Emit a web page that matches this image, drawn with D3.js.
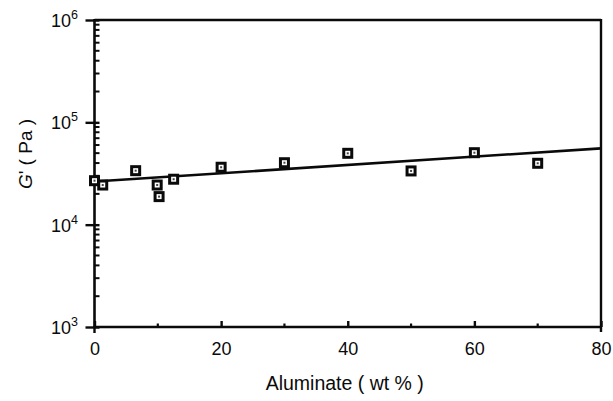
<!DOCTYPE html>
<html>
<head>
<meta charset="utf-8">
<script src="https://cdn.jsdelivr.net/npm/d3@7"></script>
<style>
  html, body { margin: 0; padding: 0; background: #fff; }
  svg { display: block; font-family: "Liberation Sans", Arial, Helvetica, sans-serif; }
</style>
</head>
<body>
<svg id="chart" width="613" height="401"></svg>
<script>
// ---- data ----
const aluminate = [0, 1.3, 6.5, 9.9, 10.2, 12.5, 20, 30, 40, 50, 60, 70];
const modulus   = [26900, 24400, 33700, 24400, 18800, 27800, 36400, 40300, 49800, 33500, 50500, 39800];
const fitX = [0, 80];
const fitY = [26400, 55700];
const xTicks = [0, 20, 40, 60, 80];
const xMinorTicks = [10, 30, 50, 70];
const yTickExponents = [3, 4, 5, 6];

// ---- layout ----
const svg = d3.select("#chart");
const mLeft = 94.5, mRight = 601, mTop = 20, mBottom = 327;

const x = d3.scaleLinear().domain([0, 80]).range([mLeft, mRight]);
const y = d3.scaleLog().domain([1e3, 1e6]).range([mBottom, mTop]);

const ink = "#0a0a0a";

// frame: top and right borders
svg.append("line").attr("x1", mLeft).attr("x2", mRight).attr("y1", mTop).attr("y2", mTop)
  .attr("stroke", ink).attr("stroke-width", 2.4);
svg.append("line").attr("x1", mRight).attr("x2", mRight).attr("y1", mTop - 1).attr("y2", mBottom + 5)
  .attr("stroke", ink).attr("stroke-width", 2.4);

// x axis
const xAxis = svg.append("g").attr("transform", `translate(0,${mBottom})`);
xAxis.call(d3.axisBottom(x).tickValues(xTicks).tickSize(-6).tickPadding(10).tickFormat(d3.format("d")));
xAxis.select(".domain").attr("stroke", ink).attr("stroke-width", 2.6).attr("d", `M${mLeft - 1},0H${mRight + 1}`);
xAxis.selectAll(".tick line").attr("stroke", ink).attr("stroke-width", 2.4);
xAxis.selectAll(".tick text").attr("font-size", 18).attr("fill", ink).attr("dy", "1.0em");
xAxis.selectAll(".minor").data(xMinorTicks).enter().append("line")
  .attr("x1", d => x(d)).attr("x2", d => x(d)).attr("y1", 0).attr("y2", -3.5)
  .attr("stroke", ink).attr("stroke-width", 2.2);
xAxis.selectAll(".endtick").data([0]).enter().append("line")
  .attr("x1", d => x(d)).attr("x2", d => x(d)).attr("y1", 0).attr("y2", 6)
  .attr("stroke", ink).attr("stroke-width", 2.4);

// y axis
const yAxis = svg.append("g").attr("transform", `translate(${mLeft},0)`);
const allYTicks = [];
for (let e = 3; e < 6; e++) for (let m = 2; m <= 9; m++) allYTicks.push(m * Math.pow(10, e));
yAxis.call(d3.axisLeft(y).tickValues(yTickExponents.map(e => Math.pow(10, e))).tickSize(8).tickFormat(""));
yAxis.select(".domain").attr("stroke", ink).attr("stroke-width", 2.6).attr("d", `M0,${mBottom + 1}V${mTop - 1}`);
yAxis.selectAll(".tick line").attr("stroke", ink).attr("stroke-width", 2.4).attr("x2", 5).attr("x1", -9);
yAxis.selectAll(".minor").data(allYTicks).enter().append("line")
  .attr("x1", 0).attr("x2", 5).attr("y1", d => y(d)).attr("y2", d => y(d))
  .attr("stroke", ink).attr("stroke-width", 2);

// y tick labels: 10^n
const yl = svg.append("g");
yTickExponents.forEach(e => {
  const t = yl.append("text").attr("x", 78).attr("y", y(Math.pow(10, e)) + 7)
    .attr("text-anchor", "end").attr("fill", ink).attr("font-size", 18);
  t.append("tspan").text("10");
  t.append("tspan").attr("dy", -8).attr("font-size", 12.5).text(String(e));
});

// fit line
svg.append("path").datum(fitX.map((d, i) => [d, fitY[i]]))
  .attr("d", d3.line().x(d => x(d[0])).y(d => y(d[1])))
  .attr("fill", "none").attr("stroke", ink).attr("stroke-width", 2.6);

// markers
const pts = svg.append("g").selectAll("g").data(aluminate.map((d, i) => [d, modulus[i]]))
  .enter().append("g").attr("transform", d => `translate(${x(d[0])},${y(d[1])})`);
pts.append("rect").attr("x", -5.5).attr("y", -5.5).attr("width", 11).attr("height", 11).attr("fill", ink);
pts.append("rect").attr("x", -2.5).attr("y", -2.5).attr("width", 5).attr("height", 5).attr("fill", "#fff");
pts.append("rect").attr("x", -1).attr("y", -1).attr("width", 2).attr("height", 2).attr("fill", "#444");

// axis titles
svg.append("text").attr("x", (mLeft + mRight) / 2 - 3).attr("y", 390)
  .attr("text-anchor", "middle").attr("font-size", 19.5).attr("fill", ink)
  .attr("xml:space", "preserve").text("Aluminate ( wt % )");

const yt = svg.append("text").attr("transform", `translate(32,154) rotate(-90)`)
  .attr("text-anchor", "middle").attr("font-size", 19).attr("fill", ink);
yt.append("tspan").attr("font-style", "italic").text("G");
yt.append("tspan").text("' ( Pa )");
</script>
</body>
</html>
